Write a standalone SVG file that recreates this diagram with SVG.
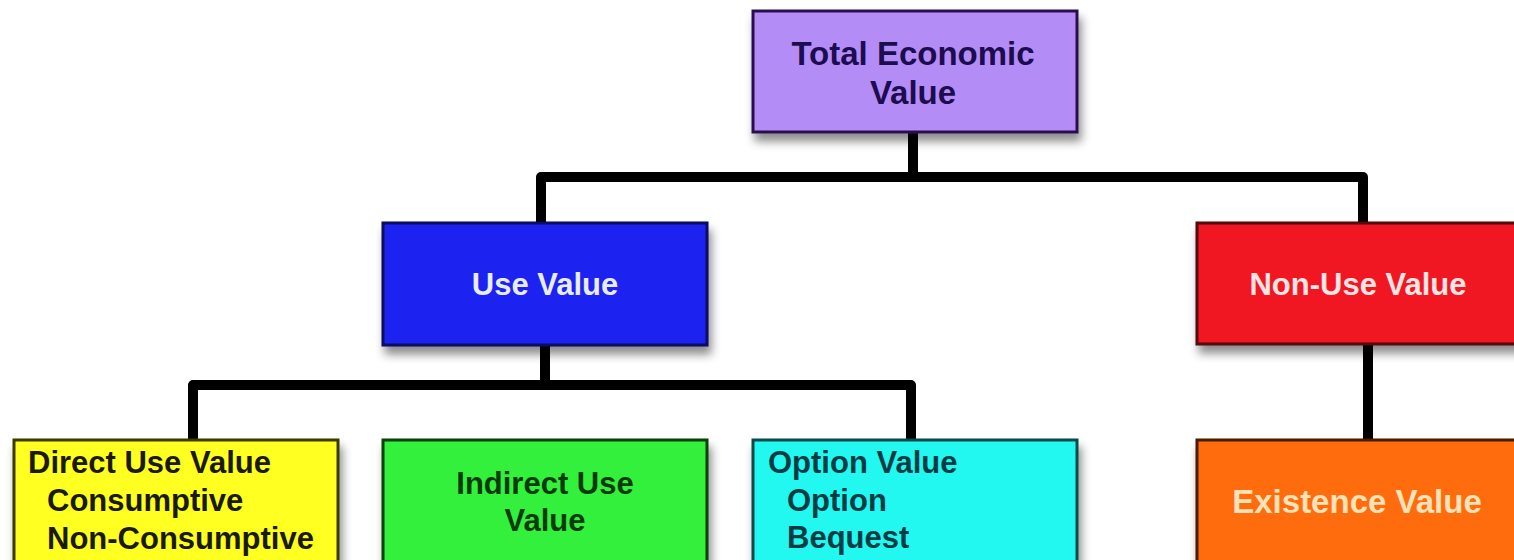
<svg xmlns="http://www.w3.org/2000/svg" width="1514" height="560" viewBox="0 0 1514 560">
<defs>
<filter id="sh" x="-10%" y="-10%" width="130%" height="140%">
<feDropShadow dx="3" dy="8" stdDeviation="5" flood-color="#000" flood-opacity="0.45"/>
</filter>
</defs>
<style>
.box{stroke-width:3;filter:url(#sh)}
.t{font-family:"Liberation Sans",Arial,sans-serif;font-weight:bold;font-size:31px}
.c{text-anchor:middle}
.con{fill:none;stroke:#000;stroke-width:10;stroke-linejoin:round;stroke-linecap:butt}
</style>
<rect width="1514" height="560" fill="#fff"/>
<g id="connectors">
<path class="con" d="M913 132 V177 M541 223 V177 H1363 V223"/>
<path class="con" d="M545 346 V385 M193 440 V385 H911 V440"/>
<path class="con" d="M1368 345 V440"/>
</g>
<g id="total-economic-value">
<rect class="box" x="753" y="11" width="324" height="121" fill="#b48cf6" stroke="#2a1050"/>
<text class="t c" x="913" y="65" font-size="33" fill="#1c0c50" style="font-size:33px">Total Economic</text>
<text class="t c" x="913" y="104" fill="#1c0c50" style="font-size:33px">Value</text>
</g>
<g id="use-value">
<rect class="box" x="383" y="223" width="324" height="122" fill="#1a24f0" stroke="#0a0a60"/>
<text class="t c" x="545" y="295" fill="#e8ecff">Use Value</text>
</g>
<g id="non-use-value">
<rect class="box" x="1197" y="223" width="324" height="121" fill="#f01424" stroke="#500808"/>
<text class="t c" x="1358" y="295" fill="#ffe4e4">Non-Use Value</text>
</g>
<g id="direct-use-value">
<rect class="box" x="14" y="440" width="324" height="130" fill="#ffff22" stroke="#3a3a00"/>
<text class="t" x="28" y="473" fill="#1a1a00">Direct Use Value</text>
<text class="t" x="47" y="511" fill="#1a1a00">Consumptive</text>
<text class="t" x="47" y="549" fill="#1a1a00">Non-Consumptive</text>
</g>
<g id="indirect-use-value">
<rect class="box" x="383" y="440" width="324" height="130" fill="#33f03a" stroke="#0a400a"/>
<text class="t c" x="545" y="494" fill="#0a3a0a">Indirect Use</text>
<text class="t c" x="545" y="531" fill="#0a3a0a">Value</text>
</g>
<g id="option-value">
<rect class="box" x="753" y="440" width="324" height="130" fill="#22f8f0" stroke="#0a4a4a"/>
<text class="t" x="768" y="473" fill="#003c44">Option Value</text>
<text class="t" x="787" y="511" fill="#003c44">Option</text>
<text class="t" x="787" y="548" fill="#003c44">Bequest</text>
</g>
<g id="existence-value">
<rect class="box" x="1197" y="440" width="324" height="130" fill="#ff6c10" stroke="#4a1a00"/>
<text class="t c" x="1357" y="513" fill="#ffe2b8" style="font-size:33px">Existence Value</text>
</g>
</svg>
